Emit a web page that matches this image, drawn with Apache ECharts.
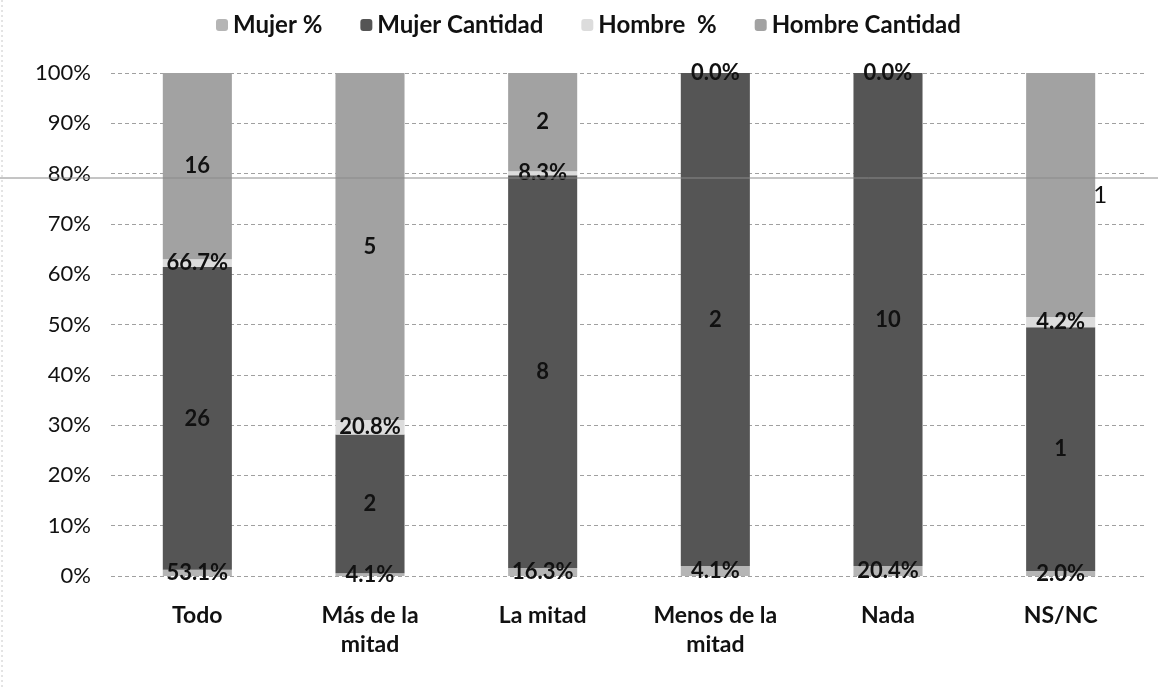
<!DOCTYPE html>
<html>
<head>
<meta charset="utf-8">
<script src="https://cdn.jsdelivr.net/npm/echarts@6/dist/echarts.min.js"></script>
<style>html,body{margin:0;padding:0;background:#fff;}#c{width:1158px;height:688px;}</style>
</head>
<body>
<div id="c"></div>
<script>
const categories = ['Todo', 'Más de la\nmitad', 'La mitad', 'Menos de la\nmitad', 'Nada', 'NS/NC'];
const mujerPct = [53.1, 4.1, 16.3, 4.1, 20.4, 2.0];
const mujerCant = [26, 2, 8, 2, 10, 1];
const hombrePct = [66.7, 20.8, 8.3, 0.0, 0.0, 4.2];
const hombreCant = [16, 5, 2, 0, 0, 1];
const yTicks = [0, 10, 20, 30, 40, 50, 60, 70, 80, 90, 100];

// 100% stacked: each category normalised by its total (percent values as fractions)
const totals = categories.map((_, i) => mujerPct[i] / 100 + mujerCant[i] + hombrePct[i] / 100 + hombreCant[i]);
function share(arr, isPct) {
  return arr.map((v, i) => ({ value: (isPct ? v / 100 : v) / totals[i] * 100, raw: v }));
}

const FONT = 'Lato, "Open Sans", sans-serif';
const labelFont = { fontFamily: FONT, fontWeight: 'bold', fontSize: 22, color: '#111' };

const hombreCantData = share(hombreCant, false).map((d, i) => {
  if (i === 5) {
    d.label = { position: ['100%', '50%'], align: 'left', verticalAlign: 'middle', fontWeight: 'normal', fontSize: 24, offset: [-2, 0] };
  }
  return d;
});

const chart = echarts.init(document.getElementById('c'), null, { renderer: 'canvas' });
chart.setOption({
  animation: false,
  backgroundColor: '#fff',
  legend: {
    top: 8,
    left: 211,
    itemWidth: 12,
    itemHeight: 12,
    itemGap: 38,
    textStyle: { fontFamily: FONT, fontWeight: 'bold', fontSize: 24, color: '#111' },
    data: ['Mujer %', 'Mujer Cantidad', 'Hombre  %', 'Hombre Cantidad']
  },
  grid: { left: 111, right: 11, top: 73, bottom: 112 },
  xAxis: {
    type: 'category',
    data: categories,
    axisLine: { show: false },
    axisTick: { show: false },
    axisLabel: { margin: 25, lineHeight: 29, fontFamily: FONT, fontWeight: 'bold', fontSize: 23, color: '#111' }
  },
  yAxis: {
    type: 'value',
    min: 0, max: 100, interval: 10,
    axisLine: { show: false },
    axisTick: { show: false },
    axisLabel: { margin: 20, fontFamily: FONT, fontSize: 22, color: '#111', formatter: v => yTicks.includes(v) ? v + '%' : '' },
    splitLine: { lineStyle: { color: '#a0a0a0', width: 1, type: [4, 3] } }
  },
  series: [
    {
      name: 'Mujer %', type: 'bar', stack: 's', barWidth: '40%', clip: false,
      itemStyle: { color: '#b5b5b5' },
      data: share(mujerPct, true),
      label: { show: true, position: 'inside', ...labelFont, formatter: p => p.data.raw.toFixed(1) + '%' }
    },
    {
      name: 'Mujer Cantidad', type: 'bar', stack: 's', barWidth: '40%', clip: false,
      itemStyle: { color: '#555555' },
      data: share(mujerCant, false),
      label: { show: true, position: 'inside', ...labelFont, formatter: p => p.data.raw ? String(p.data.raw) : '' }
    },
    {
      name: 'Hombre  %', type: 'bar', stack: 's', barWidth: '40%', clip: false,
      itemStyle: { color: '#dcdcdc' },
      data: share(hombrePct, true),
      label: { show: true, position: 'inside', ...labelFont, formatter: p => p.data.raw.toFixed(1) + '%' }
    },
    {
      name: 'Hombre Cantidad', type: 'bar', stack: 's', barWidth: '40%', clip: false,
      itemStyle: { color: '#a2a2a2' },
      data: hombreCantData,
      label: { show: true, position: 'inside', ...labelFont, formatter: p => p.data.raw ? String(p.data.raw) : '' }
    }
  ],
  graphic: [
    { type: 'line', shape: { x1: 0, y1: 178, x2: 1158, y2: 178 }, style: { stroke: '#8a8a8a', lineWidth: 1 }, silent: true, z: 100 },
    { type: 'line', shape: { x1: 2, y1: 0, x2: 2, y2: 688 }, style: { stroke: '#c8c8c8', lineWidth: 1, lineDash: [2, 3] }, silent: true }
  ]
});
</script>
</body>
</html>
